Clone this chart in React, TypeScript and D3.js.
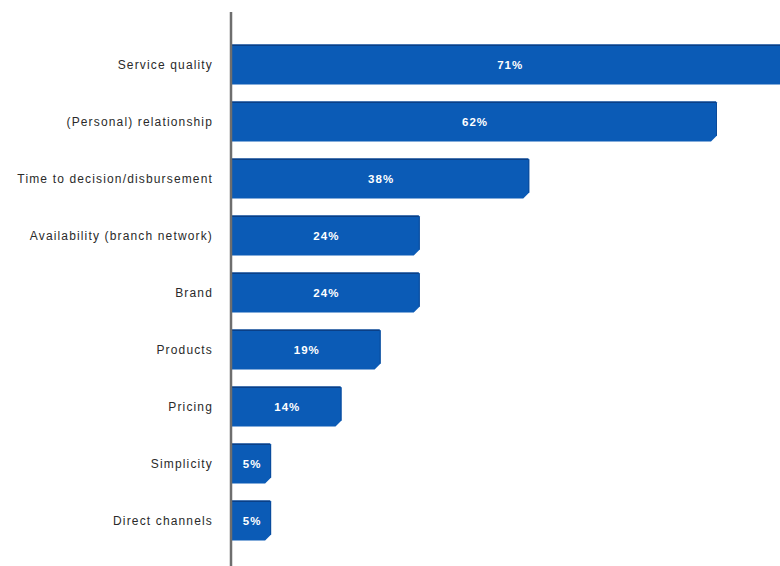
import React from "react";
import * as d3 from "d3";

const categories = [
  "Service quality",
  "(Personal) relationship",
  "Time to decision/disbursement",
  "Availability (branch network)",
  "Brand",
  "Products",
  "Pricing",
  "Simplicity",
  "Direct channels",
];
const values = [71, 62, 38, 24, 24, 19, 14, 5, 5];

export default function App() {
  const W = 780;
  const H = 566;
  const x0 = 232;
  const x = d3.scaleLinear().domain([0, 62]).range([x0, 717]);
  const y = d3.scaleBand<string>().domain(categories).range([36, 549]).paddingInner(0.3).paddingOuter(0.15);
  const bh = y.bandwidth();
  const cut = 6;
  const font = "Liberation Sans, Arial, sans-serif";
  return (
    <svg width={W} height={H} style={{ position: "absolute", left: 0, top: 0, background: "#fff" }}>
      {categories.map((c, i) => {
        const yt = y(c)!;
        const xe = x(values[i]);
        const p = d3.path();
        p.moveTo(x0, yt);
        p.lineTo(xe - 1, yt);
        p.lineTo(xe, yt + 1);
        p.lineTo(xe, yt + bh - cut);
        p.lineTo(xe - cut, yt + bh);
        p.lineTo(x0, yt + bh);
        p.closePath();
        return (
          <g key={c}>
            <path d={p.toString()} fill="#0b5bb6" />
            <line x1={x0} x2={xe - 1} y1={yt + 0.75} y2={yt + 0.75} stroke="#0a3f86" strokeWidth={1.5} />
            <line x1={xe - 0.5} x2={xe - 0.5} y1={yt + 1} y2={yt + bh - cut} stroke="#0a4a9a" strokeWidth={1} />
            <text
              x={(x0 + xe) / 2 + 0.5}
              y={yt + bh / 2}
              dy="0.35em"
              textAnchor="middle"
              fill="#ffffff"
              fontFamily={font}
              fontSize={11.5}
              fontWeight="bold"
              letterSpacing={1}
            >
              {values[i]}%
            </text>
            <text
              x={213}
              y={yt + bh / 2}
              dy="0.35em"
              textAnchor="end"
              fill="#2a2a2a"
              fontFamily={font}
              fontSize={12}
              letterSpacing={1.15}
            >
              {c}
            </text>
          </g>
        );
      })}
      <line x1={231} x2={231} y1={12} y2={H} stroke="#6e6e6e" strokeWidth={2.5} />
    </svg>
  );
}
